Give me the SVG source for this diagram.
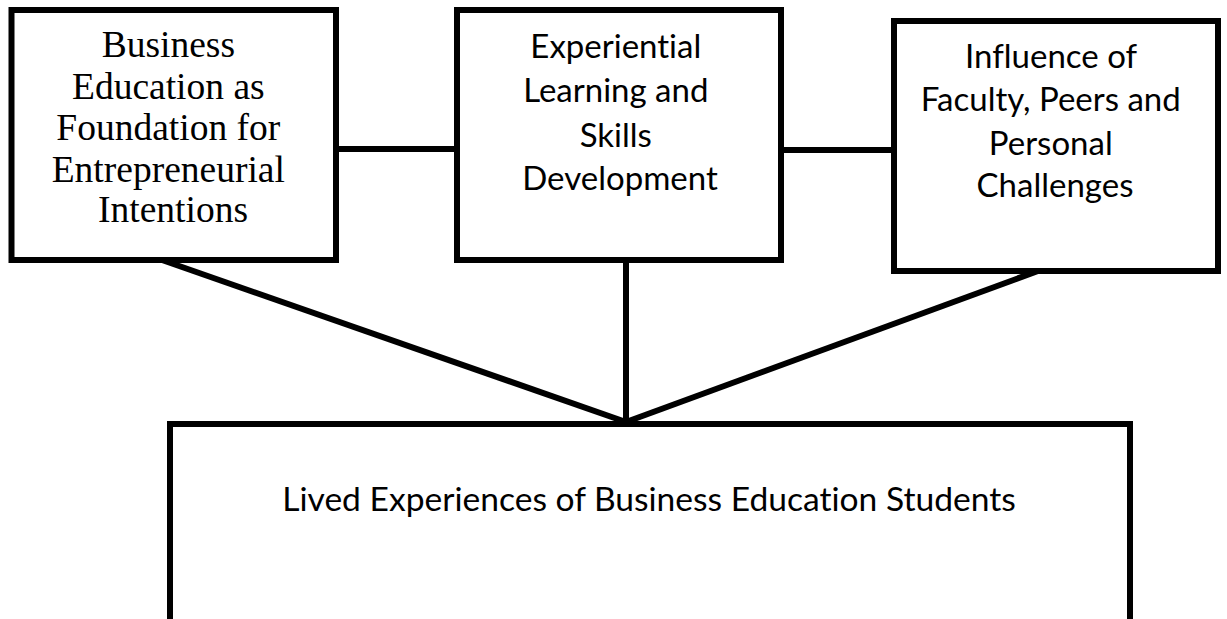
<svg xmlns="http://www.w3.org/2000/svg" width="1227" height="619" viewBox="0 0 1227 619">
  <style>
    .box { fill: #ffffff; stroke: #000000; stroke-width: 6; }
    .link { stroke: #000000; stroke-width: 6; fill: none; stroke-linecap: butt; }
    .serif { font-family: "Liberation Serif", "Times New Roman", serif; font-size: 37.5px; fill: #000000; text-anchor: middle; }
    .sans { font-family: Lato, "Open Sans", sans-serif; font-size: 33px; fill: #000000; text-anchor: middle; font-variant-ligatures: none; }
    .title { font-size: 33.6px; }
  </style>
  <rect width="1227" height="619" fill="#ffffff"/>

  <g id="connectors">
    <line class="link" x1="336" y1="149" x2="457" y2="149"/>
    <line class="link" x1="781" y1="150" x2="894" y2="150"/>
    <line class="link" x1="626" y1="260" x2="626" y2="423"/>
    <line class="link" x1="162" y1="260" x2="626" y2="422"/>
    <line class="link" x1="1038" y1="271" x2="626" y2="422"/>
  </g>

  <g id="node-foundation">
    <rect class="box" x="11.5" y="10" width="324.5" height="250"/>
    <text class="serif">
      <tspan x="173" y="57">Business</tspan>
      <tspan x="173" y="99">Education as</tspan>
      <tspan x="173" y="140">Foundation for</tspan>
      <tspan x="173" y="182">Entrepreneurial</tspan>
      <tspan x="173" y="222">Intentions</tspan>
    </text>
  </g>

  <g id="node-experiential">
    <rect class="box" x="457" y="10" width="324" height="250"/>
    <text class="sans">
      <tspan x="620" y="58">Experiential</tspan>
      <tspan x="620" y="102">Learning and</tspan>
      <tspan x="620" y="147">Skills</tspan>
      <tspan x="620" y="190">Development</tspan>
    </text>
  </g>

  <g id="node-influence">
    <rect class="box" x="894" y="21" width="324" height="250"/>
    <text class="sans">
      <tspan x="1055" y="68">Influence of</tspan>
      <tspan x="1055" y="111">Faculty, Peers and</tspan>
      <tspan x="1055" y="155">Personal</tspan>
      <tspan x="1055" y="197">Challenges</tspan>
    </text>
  </g>

  <g id="node-lived-experiences">
    <rect class="box" x="170" y="424" width="960" height="230"/>
    <text class="sans title" x="649" y="511">Lived Experiences of Business Education Students</text>
  </g>
</svg>
